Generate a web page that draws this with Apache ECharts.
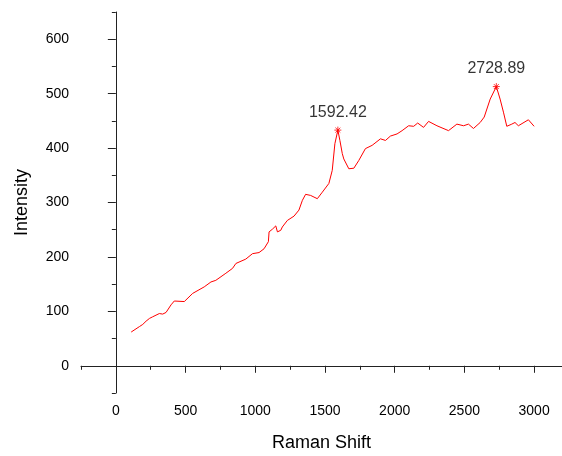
<!DOCTYPE html>
<html>
<head>
<meta charset="utf-8">
<script src="https://cdn.jsdelivr.net/npm/echarts@6/dist/echarts.min.js"></script>
<style>html,body{margin:0;padding:0;background:#fff;}#c{width:562px;height:456px;}</style>
</head>
<body>
<div id="c"></div>
<script>
var ramanShift = [110,169,193,217,241,264,312,336,360,396,419,491,551,634,682,717,789,837,861,932,980,1027,1063,1094,1099,1123,1147,1159,1183,1194,1230,1278,1313,1338,1361,1397,1445,1481,1528,1552,1571,1592.42,1607,1624,1635,1671,1707,1742,1790,1838,1898,1934,1969,2017,2053,2100,2136,2165,2207,2243,2303,2386,2446,2494,2529,2565,2613,2642,2685,2728.89,2756,2780,2804,2840,2863,2887,2959,3000];
var intensity = [62,72,76,82,87,90,96,95,98,112,119,118,133,145,154,157,170,179,188,196,206,208,215,228,246,251,257,246,249,255,267,275,286,304,315,313,307,319,335,359,408,433,414,390,380,362,363,377,399,405,417,414,422,426,432,441,440,446,438,449,441,432,444,441,444,436,447,457,490,513,490,466,440,444,447,441,452,440];
var peakX = [1592.42, 2728.89];
var peakY = [433, 513];
var xMajor = [0,500,1000,1500,2000,2500,3000];
var xMinor = [-250,250,750,1250,1750,2250,2750];
var yMajor = [0,100,200,300,400,500,600];
var yMinor = [-50,50,150,250,350,450,550,650];

var lineData = ramanShift.map(function(x,i){return [x,intensity[i]];});
var peakData = peakX.map(function(x,i){return [x,peakY[i]];});
var axisColor = '#222';
var font = 'Arial, "Liberation Sans", sans-serif';
function plain(v){return String(v);}

var chart = echarts.init(document.getElementById('c'));
chart.setOption({
  animation:false,
  backgroundColor:'#fff',
  grid:{left:81,right:0,top:12,bottom:63,containLabel:false,outerBoundsMode:'none'},
  xAxis:[{
    type:'value',min:-250,max:3200,position:'bottom',
    name:'Raman Shift',nameLocation:'middle',nameGap:41,
    nameTextStyle:{fontFamily:font,fontSize:18,color:'#000'},
    axisLine:{show:true,lineStyle:{color:axisColor,width:1}},
    axisTick:{show:true,length:7,customValues:xMajor,lineStyle:{color:axisColor}},
    axisLabel:{show:true,margin:11,customValues:xMajor,formatter:plain,fontFamily:font,fontSize:14,color:'#000'},
    splitLine:{show:false}
  },{
    type:'value',min:-250,max:3200,position:'bottom',offset:0,
    axisLine:{show:false},
    axisTick:{show:true,length:4,customValues:xMinor,lineStyle:{color:axisColor}},
    axisLabel:{show:false},
    splitLine:{show:false}
  }],
  yAxis:[{
    type:'value',min:-50,max:650,position:'left',
    name:'Intensity',nameLocation:'middle',nameGap:50,
    nameTextStyle:{fontFamily:font,fontSize:18,color:'#000'},
    axisLine:{show:true,lineStyle:{color:axisColor,width:1}},
    axisTick:{show:true,length:8,customValues:yMajor,lineStyle:{color:axisColor}},
    axisLabel:{show:true,margin:12,customValues:yMajor,formatter:plain,fontFamily:font,fontSize:14,color:'#000'},
    splitLine:{show:false}
  },{
    type:'value',min:-50,max:650,position:'left',offset:0,
    axisLine:{show:false},
    axisTick:{show:true,length:4,customValues:yMinor,lineStyle:{color:axisColor}},
    axisLabel:{show:false},
    splitLine:{show:false}
  }],
  series:[{
    type:'line',xAxisIndex:0,yAxisIndex:0,data:lineData,
    showSymbol:false,symbol:'none',
    lineStyle:{color:'#ff0000',width:1},
    z:2
  },{
    type:'scatter',xAxisIndex:0,yAxisIndex:0,data:peakData,
    symbol:'path://M0,-5L0,5M-5,0L5,0M-3.5,-3.5L3.5,3.5M-3.5,3.5L3.5,-3.5',
    symbolSize:7,
    itemStyle:{color:'none',borderColor:'#ff0000',borderWidth:1},
    label:{show:true,position:'top',distance:4,fontFamily:font,fontSize:16,color:'#000',
      formatter:function(p){return p.value[0].toFixed(2);}},
    z:3
  }]
});
</script>
</body>
</html>
